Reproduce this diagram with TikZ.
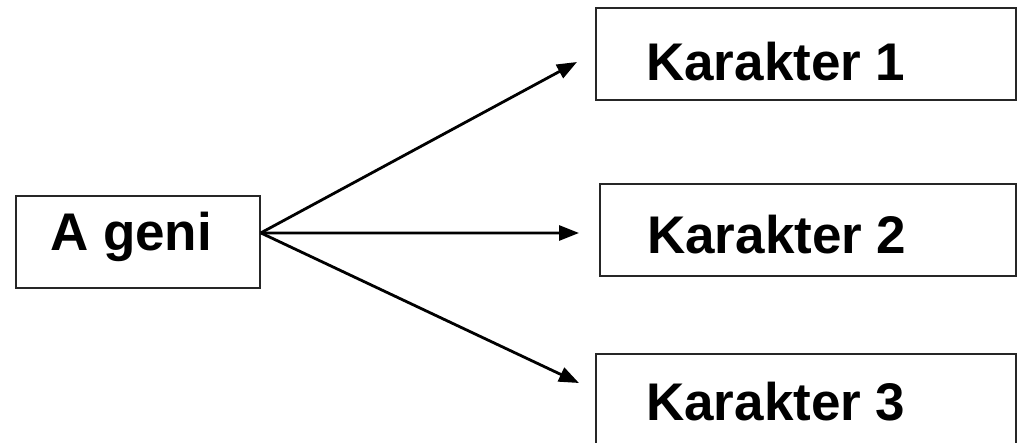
\documentclass[tikz,border=0pt]{standalone}
\usepackage{fontspec}
\setmainfont{Liberation Sans}
\usetikzlibrary{arrows.meta}
\tikzset{
  box/.style={draw=black!85, line width=1.8pt, fill=white, inner sep=0pt, anchor=north west},
  lbl/.style={font=\bfseries\fontsize{53}{60}\selectfont, inner sep=0pt, anchor=base west},
  link/.style={line width=2.8pt, -{Triangle[length=20pt,width=15pt]}}
}
\begin{document}
\begin{tikzpicture}[x=1pt,y=-1pt]
\useasboundingbox (0,0) rectangle (1017,442);
\begin{scope}
\clip (0,0) rectangle (1017,442);
% boxes
\node[box, minimum width=244pt, minimum height=92pt] (geni) at (15,195) {};
\node[box, minimum width=420pt, minimum height=92pt] (k1) at (595,7) {};
\node[box, minimum width=416pt, minimum height=92pt] (k2) at (599,183) {};
\node[box, minimum width=420pt, minimum height=92pt] (k3) at (595,353) {};
% labels
\node[lbl] (tgeni) at (50,250) {A geni};
\node[lbl] (t1) at (646,80) {Karakter 1};
\node[lbl] (t2) at (647,253) {Karakter 2};
\node[lbl] (t3) at (646,420) {Karakter 3};
% connectors
\coordinate (src) at ([yshift=9pt]geni.east);
\coordinate (e1) at (577,62);
\coordinate (e2) at (579,233);
\coordinate (e3) at (579,383);
\draw[link] (src) -- (e1);
\draw[link] (src) -- (e2);
\draw[link] (src) -- (e3);
\end{scope}
\end{tikzpicture}
\end{document}
